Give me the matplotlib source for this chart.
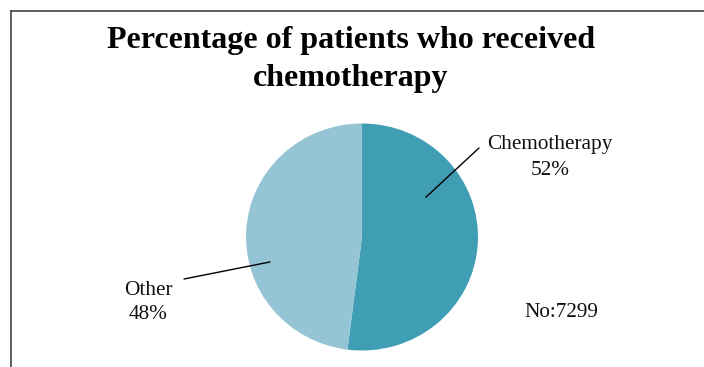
import matplotlib.pyplot as plt
from matplotlib.lines import Line2D

# data
labels = ['Chemotherapy', 'Other']
shares = [52, 48]
colors = ['#3f9db4', '#95c4d4']
total_patients = 7299
title_lines = ['Percentage of patients who received', 'chemotherapy']

W, H = 704, 367
fig = plt.figure(figsize=(W / 100, H / 100), dpi=100)
plt.rcParams['font.family'] = ['Liberation Serif', 'DejaVu Serif']


def px(x, y):
    """pixel position (from top-left) -> figure fraction"""
    return x / W, 1 - y / H


# chart frame (cut off at the right and bottom)
fig.add_artist(Line2D([11 / W, 11 / W], [0, 1 - 11 / H], color='#444444', lw=1.2))
fig.add_artist(Line2D([11 / W, 1], [1 - 11 / H, 1 - 11 / H], color='#444444', lw=1.2))

for line, base in zip(title_lines, [48, 86]):
    fig.text(*px(351, base), line, ha='center', va='baseline', fontsize=23,
             fontweight='bold')

# pie axes: centre (362, 237) px
RX, RY = 116, 113.5
ax = fig.add_axes([(362 - RX) / W, (H - 237 - RY) / H, 2 * RX / W, 2 * RY / H])
ax.pie(shares, colors=colors, startangle=90, counterclock=False, radius=1)
ax.set_xlim(-1, 1)
ax.set_ylim(-1, 1)
ax.set_aspect('auto')
ax.axis('off')

# leader lines and labels
label_x = [550, 148]
label_base = [(149, 175), (295, 319)]
line_from = [(0.55, 0.35), (-0.793, -0.22)]
line_to = [(479, 148), (184, 279)]
for lab, val, tx, (b1, b2), (lx, ly), (ex, ey) in zip(labels, shares, label_x,
                                                      label_base, line_from, line_to):
    fig.text(*px(tx, b1), lab, ha='center', va='baseline', fontsize=15.3,
             color='#111111')
    fig.text(*px(tx, b2), f'{val}%', ha='center', va='baseline', fontsize=15.3,
             color='#111111')
    ax.annotate('', xy=(lx, ly), xycoords='data',
                xytext=px(ex, ey), textcoords='figure fraction',
                arrowprops=dict(arrowstyle='-', color='black', lw=1,
                                shrinkA=0, shrinkB=0))

fig.text(*px(561, 317), f'No:{total_patients}', ha='center', va='baseline',
         fontsize=15.3, color='#111111')

fig.savefig('out.png', dpi=100)
